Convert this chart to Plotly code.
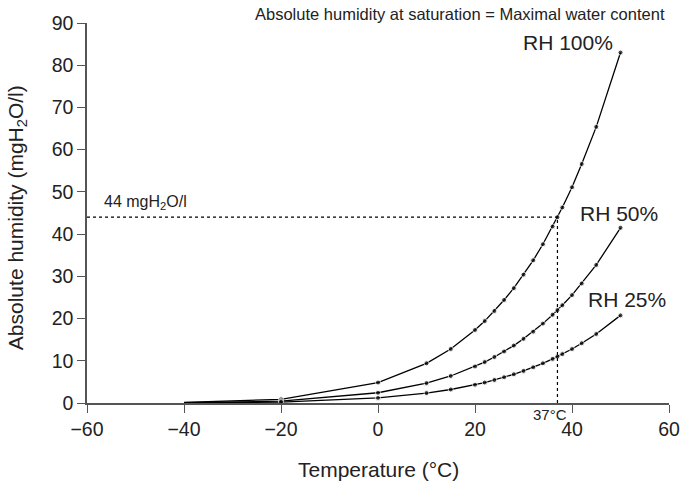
import plotly.graph_objects as go

temperature = [-40, -20, 0, 10, 15, 20, 22, 24, 26, 28, 30, 32, 34, 36, 37, 38, 40, 42, 45, 50]
rh100 = [0.12, 0.88, 4.85, 9.4, 12.8, 17.3, 19.4, 21.8, 24.4, 27.2, 30.4, 33.8, 37.6, 41.8, 44.0, 46.3, 51.1, 56.6, 65.4, 83.0]
rh50 = [0.06, 0.44, 2.43, 4.7, 6.4, 8.65, 9.7, 10.9, 12.2, 13.6, 15.2, 16.9, 18.8, 20.9, 22.0, 23.15, 25.55, 28.3, 32.7, 41.5]
rh25 = [0.03, 0.22, 1.21, 2.35, 3.2, 4.33, 4.85, 5.45, 6.1, 6.8, 7.6, 8.45, 9.4, 10.45, 11.0, 11.58, 12.78, 14.15, 16.35, 20.75]
series_names = ["RH 100%", "RH 50%", "RH 25%"]
x_ticks = [-60, -40, -20, 0, 20, 40, 60]
y_ticks = [0, 10, 20, 30, 40, 50, 60, 70, 80, 90]
ref_temp = 37
ref_hum = 44

FONT = "Liberation Sans, Arial, sans-serif"
TXT = "#222222"
AX = "#555555"

fig = go.Figure()
msize = [0 if t == temperature[0] else 5 for t in temperature]
for name, vals in zip(series_names, [rh100, rh50, rh25]):
    fig.add_trace(go.Scatter(
        x=temperature, y=vals, mode="lines+markers", name=name,
        line=dict(color="black", width=1.3),
        marker=dict(color="black", size=msize),
        showlegend=False, hoverinfo="skip"))

# reference dotted lines
fig.add_trace(go.Scatter(x=[-60, ref_temp], y=[ref_hum, ref_hum], mode="lines",
                         line=dict(color="black", width=1.2, dash="dot"),
                         showlegend=False, hoverinfo="skip"))
fig.add_trace(go.Scatter(x=[ref_temp, ref_temp], y=[0, ref_hum], mode="lines",
                         line=dict(color="black", width=1.2, dash="dot"),
                         showlegend=False, hoverinfo="skip"))

fig.update_layout(
    width=682, height=484,
    margin=dict(l=87, r=13, t=23, b=81, autoexpand=False),
    plot_bgcolor="white", paper_bgcolor="white",
    font=dict(family=FONT, color=TXT, size=19),
    xaxis=dict(range=[-60, 60], tickvals=x_ticks, automargin=False,
               ticktext=[("\u2212" + str(-v)) if v < 0 else str(v) for v in x_ticks],
               showgrid=False, zeroline=False, showline=True, linecolor=AX, linewidth=1.5,
               ticks="outside", ticklen=8, tickcolor=AX, tickwidth=1.3,
               tickfont=dict(size=19.5, color=TXT)),
    yaxis=dict(range=[0, 90], tickvals=y_ticks, automargin=False,
               showgrid=False, zeroline=False, showline=True, linecolor=AX, linewidth=1.5,
               ticks="outside", ticklen=8, tickcolor=AX, tickwidth=1.3,
               tickfont=dict(size=19.5, color=TXT)),
    annotations=[
        dict(text="Temperature (°C)", xref="paper", yref="paper", x=0.5, y=-0.176,
             xanchor="center", yanchor="middle", showarrow=False, font=dict(size=21, color=TXT)),
        dict(text="Absolute humidity (mgH<sub>2</sub>O/l)", xref="paper", yref="paper",
             x=-0.1203, y=0.489, xanchor="center", yanchor="middle", textangle=-90,
             showarrow=False, font=dict(size=21, color=TXT)),
        dict(text="Absolute humidity at saturation = Maximal water content", xref="paper", yref="paper",
             x=0.9966, y=1.0, xanchor="right", yanchor="bottom", yshift=-2, showarrow=False,
             font=dict(size=16.5, color=TXT)),
        dict(text="RH 100%", x=48.9, y=85.3, xanchor="right", yanchor="middle", showarrow=False,
             font=dict(size=21, color=TXT)),
        dict(text="RH 50%", x=49.7, y=45, xanchor="center", yanchor="middle", showarrow=False,
             font=dict(size=21, color=TXT)),
        dict(text="RH 25%", x=51.3, y=24.4, xanchor="center", yanchor="middle", showarrow=False,
             font=dict(size=21, color=TXT)),
        dict(text="44 mgH<sub>2</sub>O/l", x=-57, y=47.6, xanchor="left", yanchor="middle", showarrow=False,
             font=dict(size=16, color=TXT)),
        dict(text="37°C", x=35.5, y=0, xanchor="center", yanchor="top", yshift=-1, showarrow=False,
             font=dict(size=15, color=TXT)),
    ],
)

fig.write_html("out.html", config={"displayModeBar": False},
               post_script="document.body.style.margin='0';document.body.style.overflow='hidden';")
